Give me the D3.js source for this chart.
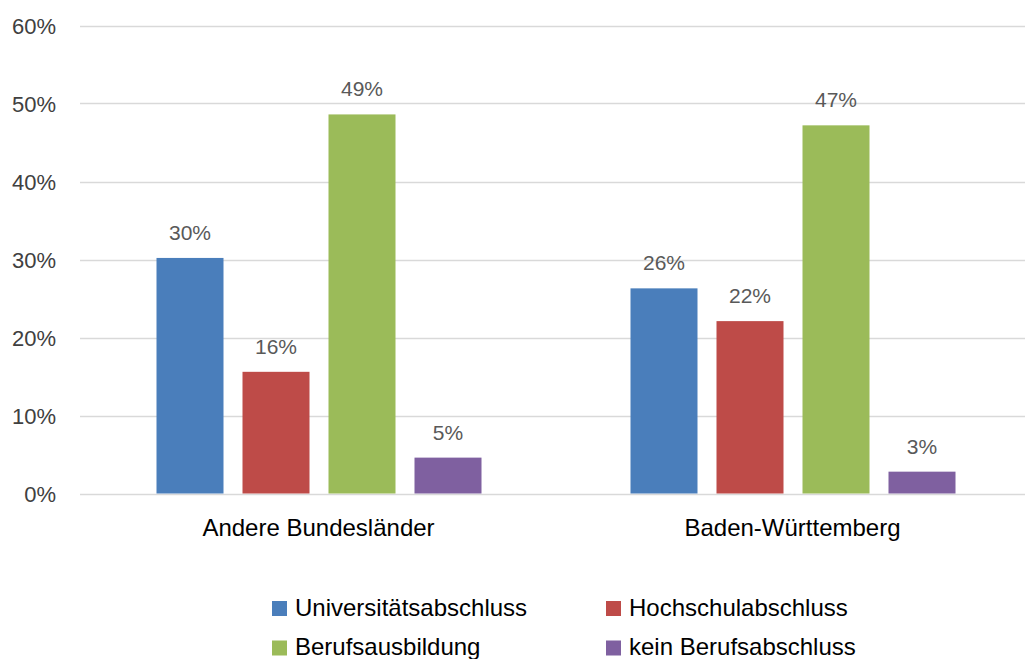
<!DOCTYPE html>
<html><head><meta charset="utf-8">
<script src="https://cdn.jsdelivr.net/npm/d3@7"></script>
<style>body{margin:0;background:#fff;} svg{display:block;font-family:"Liberation Sans",Arial,sans-serif;}</style>
</head><body><svg id="c" width="1025" height="659"></svg>
<script>
const categories = ["Andere Bundesländer", "Baden-Württemberg"];
const seriesNames = ["Universitätsabschluss", "Hochschulabschluss", "Berufsausbildung", "kein Berufsabschluss"];
const seriesColors = ["#4a7ebb", "#be4b48", "#9bbb59", "#7f60a0"];
const universitaet = [30.2, 26.3];
const hochschule = [15.6, 22.1];
const beruf = [48.6, 47.2];
const kein = [4.6, 2.8];
const yTicks = [0, 10, 20, 30, 40, 50, 60];
const values = [universitaet, hochschule, beruf, kein];

const svg = d3.select("#c");
const y = d3.scaleLinear().domain([0, 60]).range([493.5, 25.5]);
const x0 = d3.scaleBand().domain(categories).range([82.5, 1030.5]).paddingInner(0).paddingOuter(0);
const x1 = d3.scaleBand().domain(seriesNames).range([74, 74 + 325]).paddingInner(19/86).paddingOuter(0);

// gridlines
svg.append("g").selectAll("line").data(yTicks).join("line")
  .attr("x1", 80).attr("x2", 1025)
  .attr("y1", d => Math.round(y(d)) + 0.5).attr("y2", d => Math.round(y(d)) + 0.5)
  .attr("stroke", "#d9d9d9").attr("stroke-width", 1.5);

// y axis labels
svg.append("g").selectAll("text").data(yTicks).join("text")
  .attr("x", 56).attr("y", d => y(d) + 8)
  .attr("text-anchor", "end").attr("font-size", 22).attr("fill", "#404040")
  .text(d => d + "%");

// bars
const groups = svg.append("g").selectAll("g").data(categories).join("g")
  .attr("transform", c => `translate(${x0(c)},0)`);
groups.each(function(c, ci) {
  const g = d3.select(this);
  seriesNames.forEach((s, si) => {
    const v = values[si][ci];
    g.append("rect").attr("x", x1(s)).attr("width", x1.bandwidth())
      .attr("y", y(v)).attr("height", y(0) - y(v)).attr("fill", seriesColors[si]);
    g.append("text").attr("x", x1(s) + x1.bandwidth()/2).attr("y", y(v) - 18)
      .attr("text-anchor", "middle").attr("font-size", 21).attr("fill", "#595959")
      .text(Math.round(v) + "%");
  });
});

// category labels
svg.append("g").selectAll("text").data(categories).join("text")
  .attr("x", c => x0(c) + x0.bandwidth()/2 - 1).attr("y", 536)
  .attr("text-anchor", "middle").attr("font-size", 24).attr("fill", "#000")
  .text(c => c);

// legend
const legPos = [[272, 608], [606, 608], [272, 647.5], [606, 647.5]];
const leg = svg.append("g").selectAll("g").data(seriesNames).join("g")
  .attr("transform", (d, i) => `translate(${legPos[i][0]},${legPos[i][1]})`);
leg.append("rect").attr("x", 0).attr("y", -7).attr("width", 15).attr("height", 15)
  .attr("fill", (d, i) => seriesColors[i]);
leg.append("text").attr("x", 23).attr("y", 7.5)
  .attr("font-size", 24).attr("fill", "#000").text(d => d);
</script></body></html>
